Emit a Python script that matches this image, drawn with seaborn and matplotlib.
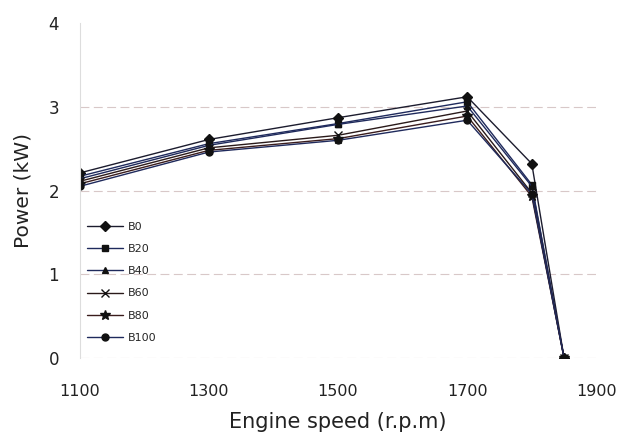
import matplotlib
matplotlib.use("Agg")
import matplotlib.pyplot as plt
import seaborn as sns
import pandas as pd

speeds = [1100, 1300, 1500, 1700, 1800, 1850]
fuels = ["B0", "B20", "B40", "B60", "B80", "B100"]
b0 = [2.21, 2.61, 2.87, 3.12, 2.32, 0.0]
b20 = [2.17, 2.56, 2.80, 3.06, 2.07, 0.0]
b40 = [2.14, 2.54, 2.79, 3.01, 2.05, 0.0]
b60 = [2.11, 2.51, 2.66, 2.95, 1.97, 0.0]
b80 = [2.08, 2.48, 2.62, 2.89, 1.93, 0.0]
b100 = [2.05, 2.46, 2.60, 2.84, 1.96, 0.0]
series = [b0, b20, b40, b60, b80, b100]
yticks = [0, 1, 2, 3, 4]
xticks = [1100, 1300, 1500, 1700, 1900]

sns.set_style("white")
plt.rcParams["font.family"] = ["DejaVu Sans"]

fig = plt.figure(figsize=(6.18, 4.36), dpi=100)
ax = fig.add_axes([0.129, 0.179, 0.836, 0.768])

colors = ["#1c1c2e", "#1f2a5c", "#1f2a5c", "#2a1a1a", "#3a1c1c", "#1f2a5c"]
markers = ["D", "s", "^", "x", "*", "o"]
sizes = [5, 5, 5, 6, 7, 5]
for f, vals, c, m, ms in zip(fuels, series, colors, markers, sizes):
    d = pd.DataFrame({"speed": speeds, "power": vals})
    sns.lineplot(data=d, x="speed", y="power", color=c, marker=m,
                 markersize=ms, markeredgecolor="#111111", markerfacecolor="#111111",
                 markeredgewidth=1.0, linewidth=1.0, label=f, ax=ax)

ax.set_xlim(1100, 1900)
ax.set_ylim(0, 4)
ax.set_xticks(xticks)
ax.set_yticks(yticks)
ax.set_xticklabels([str(t) for t in xticks], fontsize=11.5, color="#222222")
ax.set_yticklabels([str(t) for t in yticks], fontsize=12, color="#222222")
ax.tick_params(axis="x", length=0, pad=19)
ax.tick_params(axis="y", length=0, pad=15)

for y in yticks[:-1]:
    ax.axhline(y, color="#d8c8c8", linestyle=(0, (8, 4)), linewidth=0.8, zorder=0)

for side in ["top", "right", "bottom"]:
    ax.spines[side].set_visible(False)
ax.spines["left"].set_color("#dddddd")
ax.spines["left"].set_linewidth(0.8)

ax.set_xlabel("Engine speed (r.p.m)", fontsize=15, color="#222222", labelpad=9)
ax.set_ylabel("Power (kW)", fontsize=14.5, color="#222222", labelpad=11)

leg = ax.legend(loc="upper left", bbox_to_anchor=(0.0, 0.43), frameon=False,
                fontsize=8, handlelength=3.2, labelspacing=1.1,
                handletextpad=0.4, borderaxespad=0.4, borderpad=0.3)

fig.savefig("out.png", dpi=100)
